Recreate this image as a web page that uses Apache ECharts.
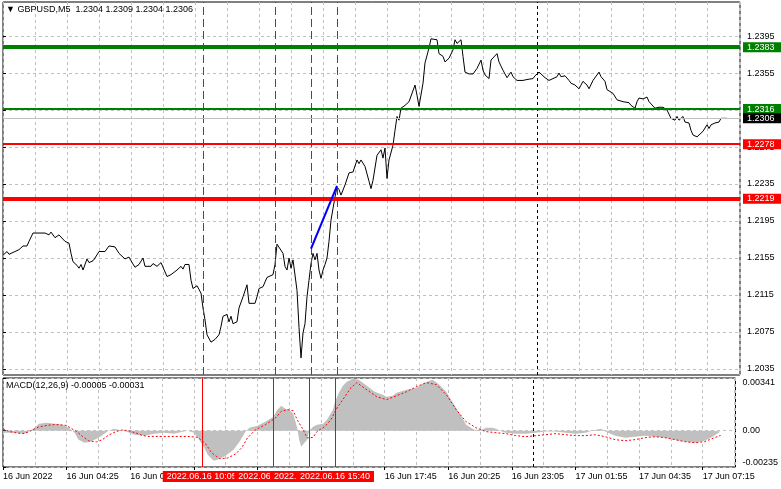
<!DOCTYPE html>
<html><head><meta charset="utf-8">
<script src="https://cdn.jsdelivr.net/npm/echarts@6/dist/echarts.min.js"></script>
<style>html,body{margin:0;padding:0;background:#fff}#c{width:781px;height:489px}</style>
</head><body><div id="c"></div>
<script>
// ---------- data ----------
const titleText = '\u25BC GBPUSD,M5  1.2304 1.2309 1.2304 1.2306';
const macdTitle = 'MACD(12,26,9) -0.00005 -0.00031';
// bar index (M5 bars) , close price
const pricePoints = [[0,1.2158],[2,1.2162],[3,1.2159],[5,1.2161],[6,1.2159],[8,1.2164],[10,1.2168],[12,1.2168],[13,1.2173],[14,1.2175],[15,1.2182],[16,1.2184],[18,1.2182],[19,1.2183],[21,1.2182],[23,1.2180],[24,1.2183],[25,1.2181],[26,1.2177],[28,1.2180],[29,1.2182],[31,1.2173],[33,1.2171],[34,1.2160],[35,1.2151],[37,1.2147],[38,1.2144],[39,1.2148],[40,1.2142],[42,1.2154],[43,1.2150],[45,1.2152],[46,1.2155],[48,1.2162],[49,1.2164],[51,1.2162],[53,1.2168],[56,1.2167],[58,1.2160],[59,1.2158],[61,1.2154],[63,1.2156],[64,1.2152],[66,1.2145],[68,1.2148],[70,1.2155],[71,1.2146],[74,1.2146],[75,1.2149],[77,1.2146],[79,1.2150],[80,1.2150],[82,1.2135],[84,1.2137],[85,1.2136],[87,1.2142],[89,1.2146],[90,1.2143],[91,1.2148],[92,1.2149],[93,1.2148],[94,1.2131],[95,1.2122],[97,1.2125],[99,1.2117],[100,1.2101],[101,1.2088],[102,1.2072],[104,1.2064],[106,1.2067],[108,1.2072],[109,1.2081],[110,1.2092],[112,1.2094],[113,1.2086],[114,1.2092],[115,1.2084],[117,1.2086],[118,1.2101],[120,1.2113],[122,1.2126],[123,1.2106],[124,1.2104],[126,1.2106],[127,1.2113],[128,1.2122],[130,1.2124],[132,1.2134],[133,1.2133],[135,1.2137],[136,1.2148],[137,1.2170],[138,1.2169],[140,1.2160],[141,1.2146],[142,1.2142],[143,1.2155],[144,1.2144],[145,1.2153],[146,1.2153],[147,1.2120],[148,1.2080],[149,1.2047],[150,1.2074],[151,1.2084],[152,1.2113],[153,1.2131],[154,1.2149],[155,1.2160],[156,1.2153],[157,1.2160],[158,1.2142],[159,1.2133],[160,1.2142],[161,1.2148],[162,1.2155],[163,1.2173],[164,1.2196],[166,1.2221],[167,1.2232],[168,1.2229],[169,1.2223],[170,1.2222],[171,1.2234],[173,1.2247],[175,1.2248],[176,1.2247],[177,1.2261],[178,1.2257],[179,1.2261],[180,1.2261],[181,1.2254],[182,1.2254],[183,1.2238],[184,1.2230],[185,1.2239],[186,1.2238],[187,1.2266],[188,1.2268],[189,1.2272],[190,1.2263],[191,1.2274],[192,1.2241],[193,1.2261],[195,1.2277],[196,1.2293],[197,1.2308],[198,1.2304],[199,1.2317],[201,1.2320],[203,1.2324],[204,1.2326],[206,1.2342],[207,1.2331],[208,1.2319],[210,1.2344],[211,1.2366],[213,1.2382],[214,1.2392],[215,1.2394],[217,1.2391],[218,1.2376],[220,1.2373],[221,1.2367],[222,1.2369],[223,1.2371],[225,1.2380],[226,1.2391],[227,1.2387],[229,1.2391],[230,1.2373],[231,1.2356],[233,1.2354],[235,1.2354],[237,1.2360],[239,1.2369],[240,1.2358],[241,1.2353],[242,1.2355],[243,1.2349],[244,1.2369],[247,1.2376],[248,1.2367],[250,1.2358],[252,1.2350],[253,1.2351],[254,1.2356],[255,1.2351],[257,1.2347],[258,1.2349],[260,1.2347],[262,1.2348],[263,1.2350],[265,1.2349],[266,1.2352],[268,1.2356],[269,1.2355],[271,1.2350],[273,1.2347],[275,1.2349],[277,1.2351],[278,1.2355],[279,1.2351],[281,1.2352],[283,1.2347],[284,1.2344],[286,1.2342],[288,1.2338],[289,1.2342],[290,1.2346],[292,1.2342],[293,1.2338],[295,1.2347],[298,1.2356],[299,1.2351],[301,1.2346],[302,1.2337],[303,1.2338],[305,1.2333],[307,1.2326],[308,1.2324],[310,1.2324],[313,1.2323],[314,1.2320],[316,1.2317],[317,1.2324],[318,1.2328],[320,1.2327],[322,1.2329],[323,1.2324],[324,1.2322],[326,1.2317],[327,1.2319],[328,1.2318],[330,1.2318],[332,1.2315],[333,1.2313],[334,1.2306],[336,1.2304],[337,1.2308],[338,1.2304],[340,1.2308],[341,1.2302],[343,1.2301],[344,1.2293],[345,1.2288],[347,1.2286],[348,1.2288],[350,1.2292],[352,1.2299],[353,1.2295],[354,1.2299],[356,1.2301],[358,1.2302],[359,1.2306],[360,1.2305],[362,1.2306]];
const trendLine = [[154,1.2165],[167,1.2233]];
const levelValues = [1.2383, 1.2316, 1.2306, 1.2278, 1.2219];
const macdHist = [[0,-0.00013],[6,-0.00013],[11,-0.00019],[13,-0.00006],[16,0.00019],[18,0.00045],[22,0.00052],[26,0.00045],[30,0.00039],[33,0.00019],[36,-0.00013],[38,-0.00058],[41,-0.00078],[44,-0.00071],[48,-0.00045],[51,-0.00019],[53,0],[56,0.00013],[58,0.00006],[62,-0.00006],[66,-0.00026],[71,-0.00032],[76,-0.00019],[81,-0.00013],[86,-0.00019],[91,-0.00006],[93,0],[96,-0.00013],[98,-0.00045],[101,-0.00104],[103,-0.00155],[106,-0.00194],[108,-0.00188],[112,-0.00162],[116,-0.00123],[119,-0.00071],[122,-0.00006],[124,0.00019],[128,0.00032],[132,0.00058],[136,0.00091],[138,0.00136],[140,0.00162],[142,0.00142],[144,0.00136],[146,0.00110],[148,0.00019],[149,-0.00058],[150,-0.00104],[151,-0.00097],[153,-0.00058],[154,0],[156,0.00026],[158,0.00039],[161,0.00045],[163,0.00071],[166,0.00136],[167,0.00188],[169,0.00246],[171,0.00291],[173,0.00317],[176,0.00336],[179,0.00330],[183,0.00291],[187,0.00252],[191,0.00233],[193,0.00220],[196,0.00226],[198,0.00246],[203,0.00265],[208,0.00278],[212,0.00311],[216,0.00330],[219,0.00304],[223,0.00252],[227,0.00168],[231,0.00084],[233,0.00039],[237,0.00006],[241,0.00006],[243,0.00019],[246,0.00019],[248,0.00013],[251,-0.00006],[253,-0.00013],[258,-0.00019],[263,-0.00019],[268,-0.00013],[273,-0.00006],[278,-0.00006],[283,-0.00013],[288,-0.00019],[293,-0.00013],[298,0.00006],[301,0.00013],[303,-0.00006],[308,-0.00032],[313,-0.00045],[318,-0.00039],[323,-0.00032],[328,-0.00039],[333,-0.00045],[338,-0.00058],[343,-0.00071],[348,-0.00078],[353,-0.00065],[357,-0.00039],[361,-0.00005]];
const macdSignal = [[0,0.00013],[3,-0.00005],[7,-0.00015],[10,-0.00019],[13,-0.00008],[15,0.00006],[18,0.00024],[22,0.00034],[25,0.00039],[28,0.00039],[32,0.00034],[34,0.00017],[37,-0.00005],[40,-0.00037],[43,-0.00065],[47,-0.00073],[50,-0.00058],[53,-0.00030],[57,-0.00005],[60,0.00005],[63,0],[67,-0.00015],[70,-0.00030],[73,-0.00037],[83,-0.00037],[93,-0.00037],[98,-0.00043],[102,-0.00086],[105,-0.00144],[109,-0.00181],[113,-0.00177],[117,-0.00151],[120,-0.00112],[123,-0.00047],[127,0.00006],[132,0.00039],[137,0.00082],[140,0.00125],[143,0.00136],[146,0.00129],[148,0.00071],[151,0.00006],[153,-0.00047],[156,-0.00043],[158,-0.00005],[162,0.00028],[165,0.00071],[168,0.00147],[172,0.00220],[175,0.00278],[178,0.00311],[183,0.00265],[188,0.00220],[193,0.00201],[198,0.00226],[203,0.00252],[208,0.00285],[213,0.00311],[218,0.00298],[223,0.00233],[228,0.00136],[233,0.00058],[238,0.00019],[243,-0.00006],[248,-0.00013],[253,-0.00019],[258,-0.00032],[263,-0.00039],[268,-0.00032],[273,-0.00026],[278,-0.00019],[283,-0.00026],[288,-0.00032],[293,-0.00032],[298,-0.00026],[303,-0.00039],[308,-0.00058],[313,-0.00065],[318,-0.00058],[323,-0.00045],[328,-0.00039],[333,-0.00045],[338,-0.00058],[343,-0.00071],[348,-0.00078],[353,-0.00071],[358,-0.00045],[361,-0.00031]];
const vLineBars = [100, 136, 154, 167];
const vLineLabels = ['2022.06.16 10:05', '2022.06.16 13:05', '2022.06.16 14:35', '2022.06.16 15:40'];
const separatorBar = 267;
const xLabelPos = [0, 32, 64, 96, 128, 160, 192, 224, 256, 288, 320, 352];
const xLabelText = ['16 Jun 2022','16 Jun 04:25','16 Jun 07:05','16 Jun 09:45','16 Jun 12:25','16 Jun 15:05','16 Jun 17:45','16 Jun 20:25','16 Jun 23:05','17 Jun 01:55','17 Jun 04:35','17 Jun 07:15'];
const priceTicks = [1.2035, 1.2075, 1.2115, 1.2155, 1.2195, 1.2235, 1.2275, 1.2315, 1.2355, 1.2395];
const macdTicks = [-0.00235, 0, 0.00341];
const macdTickText = ['-0.00235', '0.00', '0.00341'];

// ---------- styles ----------
const F = '"Liberation Sans", Arial, sans-serif';
const FS = 9;
const levelStyle = [
  {color:'#008000', width:4, bg:'#008000'},
  {color:'#008000', width:2, bg:'#008000'},
  {color:'#c0c0c0', width:1, bg:'#000000'},
  {color:'#ff0000', width:2, bg:'#ff0000'},
  {color:'#ff0000', width:4, bg:'#ff0000'}
];
const gridLine = {show:true, lineStyle:{color:'#c0c0c0', width:1, type:[3,3]}};

const chart = echarts.init(document.getElementById('c'), null, {renderer:'canvas'});

const levelMarks = levelValues.map((v, i) => ({
  yAxis: v,
  lineStyle: {color: levelStyle[i].color, width: levelStyle[i].width, type:'solid'},
  label: {show:true, position:'end', distance:3, formatter: v.toFixed(4), backgroundColor: levelStyle[i].bg,
          color:'#fff', fontSize:FS, fontFamily:F, lineHeight:9, padding:[1,8,0,4]}
}));
const vMarksMain = vLineBars.map(b => ({xAxis:b, lineStyle:{color:'#ff0000', width:1, type:[8,4]}, label:{show:false}}));
vMarksMain.push({xAxis: separatorBar, lineStyle:{color:'#000', width:1, type:[3,3]}, label:{show:false}});
const vMarksMacd = vLineBars.map((b, i) => ({xAxis:b, lineStyle:{color:'#ff0000', width:1, type:'solid'},
  label:{show:true, position:'start', distance:4, formatter: vLineLabels[i], backgroundColor:'#ff0000', color:'#fff',
         fontSize:FS, fontFamily:F, lineHeight:9, padding:[1,4,1,4]}}));
vMarksMacd.unshift({xAxis: separatorBar, lineStyle:{color:'#000', width:1, type:[3,3]}, label:{show:false}});

const option = {
  animation: false,
  backgroundColor: '#ffffff',
  textStyle: {fontFamily: F},
  title: [
    {text: titleText, left: 6, top: 5, padding: 0, textStyle: {fontSize: FS, fontWeight:'normal', color:'#000', fontFamily:F}},
    {text: macdTitle, left: 6, top: 381, padding: 0, textStyle: {fontSize: FS, fontWeight:'normal', color:'#000', fontFamily:F}}
  ],
  grid: [
    {left:3, top:2, width:737, height:373, show:true, borderColor:'#000', borderWidth:1},
    {left:3, top:378, width:737, height:89, show:true, borderColor:'#000', borderWidth:1}
  ],
  xAxis: [
    {gridIndex:0, type:'value', min:0, max:368.5, interval:16, axisLine:{show:false}, axisTick:{show:false},
     axisLabel:{show:false}, splitLine: gridLine},
    {gridIndex:1, type:'value', min:0, max:368.5, interval:16, axisLine:{show:false}, axisTick:{show:false},
     axisLabel:{show:true, customValues: xLabelPos, align:'left', margin:5, fontSize:FS, color:'#000', fontFamily:F,
       formatter: v => { const i = xLabelPos.indexOf(Math.round(v)); return i >= 0 ? xLabelText[i] : ''; }},
     splitLine: gridLine},
    {gridIndex:1, type:'value', min:0, max:368.5, position:'bottom', axisLine:{show:false},
     axisTick:{show:true, customValues: xLabelPos, length:3, lineStyle:{color:'#000'}},
     axisLabel:{show:false}, splitLine:{show:false}}
  ],
  yAxis: [
    {gridIndex:0, type:'value', position:'right', min:1.20285, max:1.24318, scale:true,
     axisLine:{show:false}, axisTick:{show:true, customValues: priceTicks, length:3, lineStyle:{color:'#000'}},
     axisLabel:{show:true, customValues: priceTicks, margin:7, fontSize:FS, color:'#000', fontFamily:F, formatter: v => v.toFixed(4)},
     splitLine: gridLine},
    {gridIndex:1, type:'value', position:'right', min:-0.00235, max:0.00341,
     axisLine:{show:false}, axisTick:{show:true, customValues: macdTicks, length:3, lineStyle:{color:'#000'}},
     axisLabel:{show:true, customValues: macdTicks, margin:7, fontSize:FS, color:'#000', fontFamily:F,
       verticalAlignMaxLabel:'top', verticalAlignMinLabel:'bottom',
       formatter: v => { let best = 0; macdTicks.forEach((t,i)=>{ if (Math.abs(t-v) < Math.abs(macdTicks[best]-v)) best = i; }); return macdTickText[best]; }},
     splitLine: gridLine}
  ],
  series: [
    {type:'line', name:'MACD', xAxisIndex:1, yAxisIndex:1, data: macdHist, symbol:'none', silent:true,
     lineStyle:{width:0, color:'#c0c0c0'}, areaStyle:{color:'#c0c0c0', opacity:1}, z:2,
     markLine:{silent:true, precision:6, symbol:['none','none'], animation:false, data: vMarksMacd}},
    {type:'line', name:'Signal', xAxisIndex:1, yAxisIndex:1, data: macdSignal, symbol:'none', silent:true,
     lineStyle:{width:1, color:'#ff0000', type:[2,2]}, z:3},
    {type:'line', name:'GBPUSD', xAxisIndex:0, yAxisIndex:0, data: pricePoints, symbol:'none', silent:true,
     lineStyle:{width:1, color:'#000'}, z:4,
     markLine:{silent:true, precision:6, symbol:['none','none'], animation:false, data: vMarksMain.concat(levelMarks)}},
    {type:'line', name:'Trend', xAxisIndex:0, yAxisIndex:0, data: trendLine, symbol:'none', silent:true,
     lineStyle:{width:2, color:'#0000ff'}, z:5}
  ]
};
chart.setOption(option);
</script>
</body></html>
